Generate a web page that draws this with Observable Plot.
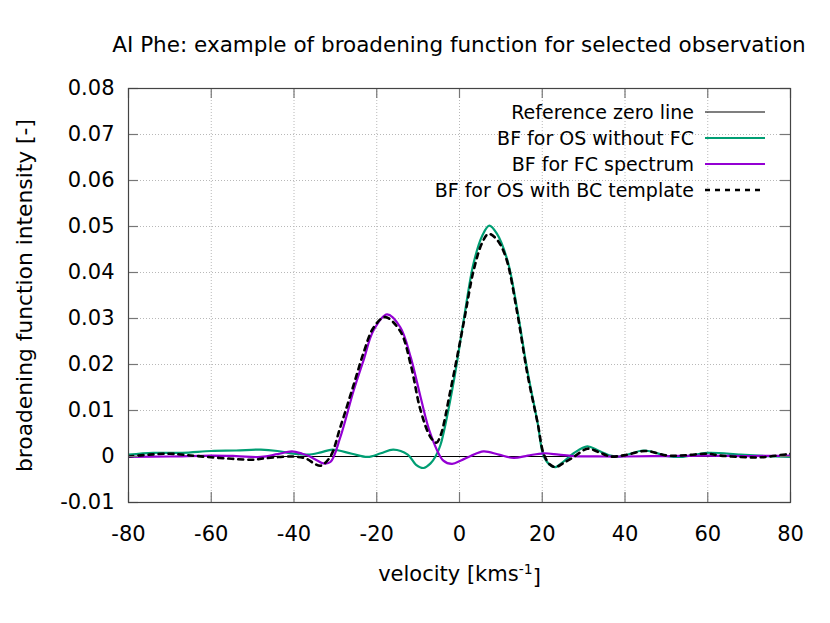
<!DOCTYPE html>
<html>
<head>
<meta charset="utf-8">
<script src="https://cdn.jsdelivr.net/npm/d3@7"></script>
<script src="https://cdn.jsdelivr.net/npm/@observablehq/plot@0.6"></script>
<style>
  html, body { margin: 0; padding: 0; background: #fff; }
  body { font-family: "DejaVu Sans", sans-serif; }
  #wrap { position: relative; width: 830px; height: 623px; overflow: hidden; }
  #title { position: relative; height: 65px; }
  #title span { position: absolute; left: 459px; top: 34px; transform: translateX(-50%);
    white-space: nowrap; font-size: 21.5px; line-height: 21px; color: #000; }
  #legend { position: absolute; left: 0; top: 0; width: 830px; height: 623px; pointer-events: none; }
</style>
</head>
<body>
<div id="wrap">
  <div id="title"><span>AI Phe: example of broadening function for selected observation</span></div>
  <div id="chart"></div>
  <svg id="legend" width="830" height="623"></svg>
</div>
<script>
// ---------- data ----------
const xTicks = [-80, -60, -40, -20, 0, 20, 40, 60, 80];
const yTicks = [-0.01, 0, 0.01, 0.02, 0.03, 0.04, 0.05, 0.06, 0.07, 0.08];

// BF for OS without FC (green)
const osVel = [-80, -74, -67, -60, -54, -48, -44, -40, -36.7, -33.5, -30.7, -26, -22.2, -19, -16, -12.5, -10.5, -8.7, -7, -5.8, -4.6, -1.5, 1, 3.4, 5.5, 7.2, 9, 11.6, 14, 16.4, 18.9, 20.3, 21.8, 23.2, 25, 27.6, 30.9, 33.5, 36.5, 39, 44.5, 50.3, 53.5, 59.9, 67.9, 74, 80];
const osBF  = [0.0004, 0.0008, 0.0008, 0.0012, 0.0013, 0.0015, 0.0012, 0.0006, 0.0004, 0.0009, 0.0015, 0.0006, -0.0001, 0.0007, 0.0015, 0.0004, -0.0018, -0.0025, -0.0015, 0, 0.0025, 0.0158, 0.0296, 0.042, 0.048, 0.0502, 0.0485, 0.0426, 0.0317, 0.0187, 0.0072, 0.0002, -0.0018, -0.0023, -0.0012, 0.0007, 0.0022, 0.0013, 0.0002, 0, 0.0013, 0.0001, -0.0001, 0.0008, 0.0004, 0.0001, -0.0001];

// BF for FC spectrum (purple)
const fcVel = [-80, -70, -60, -54, -48, -44, -40.5, -38, -36.7, -34.5, -32.9, -31.2, -28.8, -25.6, -23.2, -20.8, -17.5, -14.3, -11.8, -9.4, -7, -3.9, -1.8, 0.5, 2.7, 5.8, 9.5, 13.1, 16.5, 20.3, 24, 27.6, 35, 40, 50, 60, 70, 80];
const fcBF  = [-0.0001, 0, 0.0002, 0.0001, -0.0001, 0.0005, 0.0011, 0.0006, 0.0002, -0.0008, -0.0015, -0.0012, 0.0042, 0.0143, 0.0209, 0.0274, 0.0309, 0.0281, 0.0216, 0.0129, 0.0049, -0.0009, -0.0016, -0.0008, 0.0001, 0.0011, 0.0004, -0.0003, 0.0002, 0.0007, 0.0004, 0.0001, 0, 0, 0.0001, 0.0002, 0.0001, 0.0002];

// BF for OS with BC template (black dashed)
const bcVel = [-80, -75, -70, -66, -61, -55, -50, -47, -40.5, -37, -35, -33.5, -31.2, -28.8, -25.6, -23.2, -20.8, -18, -14.3, -11.8, -9.4, -7, -5.6, -4.6, -2.2, 1, 3.4, 5.5, 7, 9, 11.2, 14, 16.4, 18.9, 20.3, 21.8, 23.2, 25, 27.6, 30.9, 33.5, 36.5, 40, 45, 50.3, 55, 59.9, 63, 67.9, 72, 75, 80];
const bcBF  = [0, 0.0004, 0.0006, 0.0003, -0.0001, -0.0005, -0.0007, -0.0004, 0, -0.0005, -0.0016, -0.002, 0, 0.0064, 0.0155, 0.0225, 0.028, 0.0303, 0.0272, 0.02, 0.0100, 0.0042, 0.003, 0.0045, 0.0143, 0.029, 0.0404, 0.0465, 0.0484, 0.0472, 0.0433, 0.031, 0.018, 0.0072, 0.0007, -0.0017, -0.0023, -0.0015, -0.0001, 0.0017, 0.001, 0, 0.0003, 0.0012, 0.0002, 0.0003, 0.0006, 0.0002, -0.0001, -0.0002, 0, 0.0006];

const legendLabels = ["Reference zero line", "BF for OS without FC", "BF for FC spectrum", "BF for OS with BC template"];
const legendColors = ["#000000", "#009e73", "#9400d3", "#000000"];

// ---------- build tables ----------
const toRows = (vs, bs) => vs.map((v, i) => ({v, bf: bs[i]}));
const osRows = toRows(osVel, osBF);
const fcRows = toRows(fcVel, fcBF);
const bcRows = toRows(bcVel, bcBF);

const W = 830, H = 558, mL = 128, mR = 40, mT = 23, mB = 121;
const innerW = W - mL - mR, innerH = H - mT - mB;
const tickLen = 10;
const font = "DejaVu Sans";

const chart = Plot.plot({
  width: W, height: H,
  marginLeft: mL, marginRight: mR, marginTop: mT, marginBottom: mB,
  x: {domain: [-80, 80]},
  y: {domain: [-0.01, 0.08]},
  style: {fontFamily: font, fontSize: "21px", color: "#000", background: "#fff", overflow: "visible"},
  marks: [
    Plot.gridX(xTicks, {stroke: "#b8b8b8", strokeOpacity: 1, strokeWidth: 1, strokeDasharray: "1,2"}),
    Plot.gridY(yTicks, {stroke: "#b8b8b8", strokeOpacity: 1, strokeWidth: 1, strokeDasharray: "1,2"}),
    Plot.ruleY([0], {stroke: "#000", strokeWidth: 1.2}),
    Plot.line(osRows, {x: "v", y: "bf", stroke: legendColors[1], strokeWidth: 2.2, curve: "catmull-rom", clip: true}),
    Plot.line(fcRows, {x: "v", y: "bf", stroke: legendColors[2], strokeWidth: 2.2, curve: "catmull-rom", clip: true}),
    Plot.line(bcRows, {x: "v", y: "bf", stroke: legendColors[3], strokeWidth: 2.6, strokeDasharray: "5,5", curve: "catmull-rom", clip: true}),
    // inward ticks on all four borders
    Plot.tickX(xTicks, {insetTop: innerH - tickLen, stroke: "#777", strokeWidth: 1.2}),
    Plot.tickX(xTicks, {insetBottom: innerH - tickLen, stroke: "#777", strokeWidth: 1.2}),
    Plot.tickY(yTicks, {insetRight: innerW - tickLen, stroke: "#777", strokeWidth: 1.2}),
    Plot.tickY(yTicks, {insetLeft: innerW - tickLen, stroke: "#777", strokeWidth: 1.2}),
    Plot.frame({stroke: "#444", strokeWidth: 1.2}),
    Plot.axisX({ticks: xTicks, tickSize: 0, tickPadding: 24, tickFormat: d => String(d), label: null, fontSize: 21}),
    Plot.axisY({ticks: yTicks, tickSize: 0, tickPadding: 14, tickFormat: d => d === 0 ? "0" : d.toFixed(2), label: null, fontSize: 21}),
    Plot.text(["velocity [kms-1]"], {frameAnchor: "bottom", dy: 78, fontSize: 21, fill: "#000"}),
    Plot.text(["broadening function intensity [-]"], {frameAnchor: "left", textAnchor: "middle", lineAnchor: "middle", dx: -103, rotate: -90, fontSize: 21.8, fill: "#000"})
  ]
});
document.getElementById("chart").appendChild(chart);

// superscript for the unit
d3.select(chart).selectAll("text").each(function() {
  if (this.textContent === "velocity [kms-1]") {
    const t = d3.select(this);
    t.text(null);
    t.append("tspan").text("velocity [kms");
    t.append("tspan").attr("dy", "-0.45em").attr("font-size", "14px").text("-1");
    t.append("tspan").attr("dy", "0.45em").text("]");
  }
});

// legend (inside the plot, top-right)
const leg = d3.select("#legend");
const rowY = [112, 138, 164, 190];
legendLabels.forEach((lab, i) => {
  leg.append("text").attr("x", 694).attr("y", rowY[i]).attr("dy", "0.35em")
    .attr("text-anchor", "end").attr("font-family", font).attr("font-size", 19).attr("fill", "#000").text(lab);
  leg.append("line").attr("x1", 705).attr("x2", 765).attr("y1", rowY[i]).attr("y2", rowY[i])
    .attr("stroke", legendColors[i]).attr("stroke-width", i === 0 ? 1.2 : (i === 3 ? 2.4 : 2.2))
    .attr("stroke-dasharray", i === 3 ? "5,5" : null);
});
</script>
</body>
</html>
